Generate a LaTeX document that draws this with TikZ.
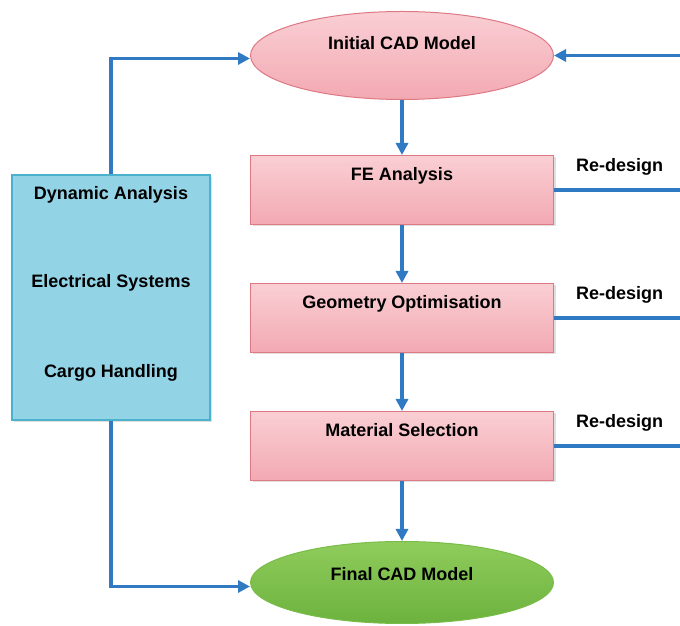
\documentclass[tikz,border=0pt]{standalone}
\usepackage{fontspec}
\setmainfont{Liberation Sans}
\usepackage{xcolor}
\usepackage{tikz}
\usetikzlibrary{arrows.meta}
\usetikzlibrary{positioning}
\usetikzlibrary{shapes.geometric}
\usetikzlibrary{shadows}

\definecolor{flowblue}{HTML}{2F7AC3}
\definecolor{pinktop}{HTML}{F9CFD4}
\definecolor{pinkbot}{HTML}{F3A9B2}
\definecolor{pinkline}{HTML}{DE7884}
\definecolor{greentop}{HTML}{8FCC5C}
\definecolor{greenbot}{HTML}{6DB23E}
\definecolor{greenline}{HTML}{79BC48}
\definecolor{sidefill}{HTML}{93D3E6}
\definecolor{sideline}{HTML}{4CB1CC}

\tikzset{
    txt/.style={font=\bfseries\fontsize{18}{21}\selectfont, text height=13pt},
    cadmodel/.style={ellipse, txt, minimum width=303pt, minimum height=88pt,
        draw=pinkline, line width=1pt, top color=pinktop, bottom color=pinkbot},
    stepbox/.style={rectangle, txt, text depth=32pt, minimum width=303pt,
        minimum height=69pt, draw=pinkline, line width=1pt,
        top color=pinktop, bottom color=pinkbot,
        drop shadow={opacity=0.25, shadow xshift=2pt, shadow yshift=-2pt}},
    sidebox/.style={rectangle, minimum width=198pt, minimum height=245pt,
        draw=sideline, line width=1.5pt, fill=sidefill,
        drop shadow={opacity=0.25, shadow xshift=2pt, shadow yshift=-2pt}},
    sidetext/.style={txt, text depth=0pt, inner sep=0pt},
    redesign/.style={txt, text depth=0pt, inner sep=0pt, above, yshift=17pt, pos=0.52},
    flow/.style={draw=flowblue, line width=3.6pt,
        -{Triangle[length=12pt, width=12pt]}},
    feedback/.style={draw=flowblue, line width=3.6pt}
}

\begin{document}
\begin{tikzpicture}[x=1pt, y=1pt]
    \useasboundingbox (0,0) rectangle (680,626);

    \node[stepbox] (fe) at (402,436) {FE Analysis};
    \node[cadmodel, text depth=24pt, above=55pt of fe] (init) {Initial CAD Model};
    \node[stepbox, below=58pt of fe] (geo) {Geometry Optimisation};
    \node[stepbox, below=58pt of geo] (mat) {Material Selection};
    \node[cadmodel, text depth=16pt, minimum height=82pt, below=60pt of mat,
        draw=greenline, top color=greentop, bottom color=greenbot] (fin) {Final CAD Model};

    \node[sidebox] (side) at (111,328.5) {};
    \node[sidetext] (dyn) at ([yshift=-19pt]side.north) {Dynamic Analysis};
    \node[sidetext] (elec) at ([yshift=-107pt]side.north) {Electrical Systems};
    \node[sidetext] (cargo) at ([yshift=-197pt]side.north) {Cargo Handling};

    \coordinate (edge) at (680,0);

    % main flow
    \draw[flow] (init) -- (fe);
    \draw[flow] (fe) -- (geo);
    \draw[flow] (geo) -- (mat);
    \draw[flow] (mat) -- (fin);

    % side inputs
    \draw[flow] (side.north) |- ([yshift=-3pt]init.west);
    \draw[flow] (side.south) |- ([yshift=-4pt]fin.west);

    % re-design loops
    \draw[feedback] (fe.east) -- (fe.east -| edge) node[redesign] {Re-design};
    \draw[feedback] (geo.east) -- (geo.east -| edge) node[redesign] {Re-design};
    \draw[feedback] (mat.east) -- (mat.east -| edge) node[redesign] {Re-design};
    \draw[flow] (init.east -| edge) -- (init.east);
\end{tikzpicture}
\end{document}
